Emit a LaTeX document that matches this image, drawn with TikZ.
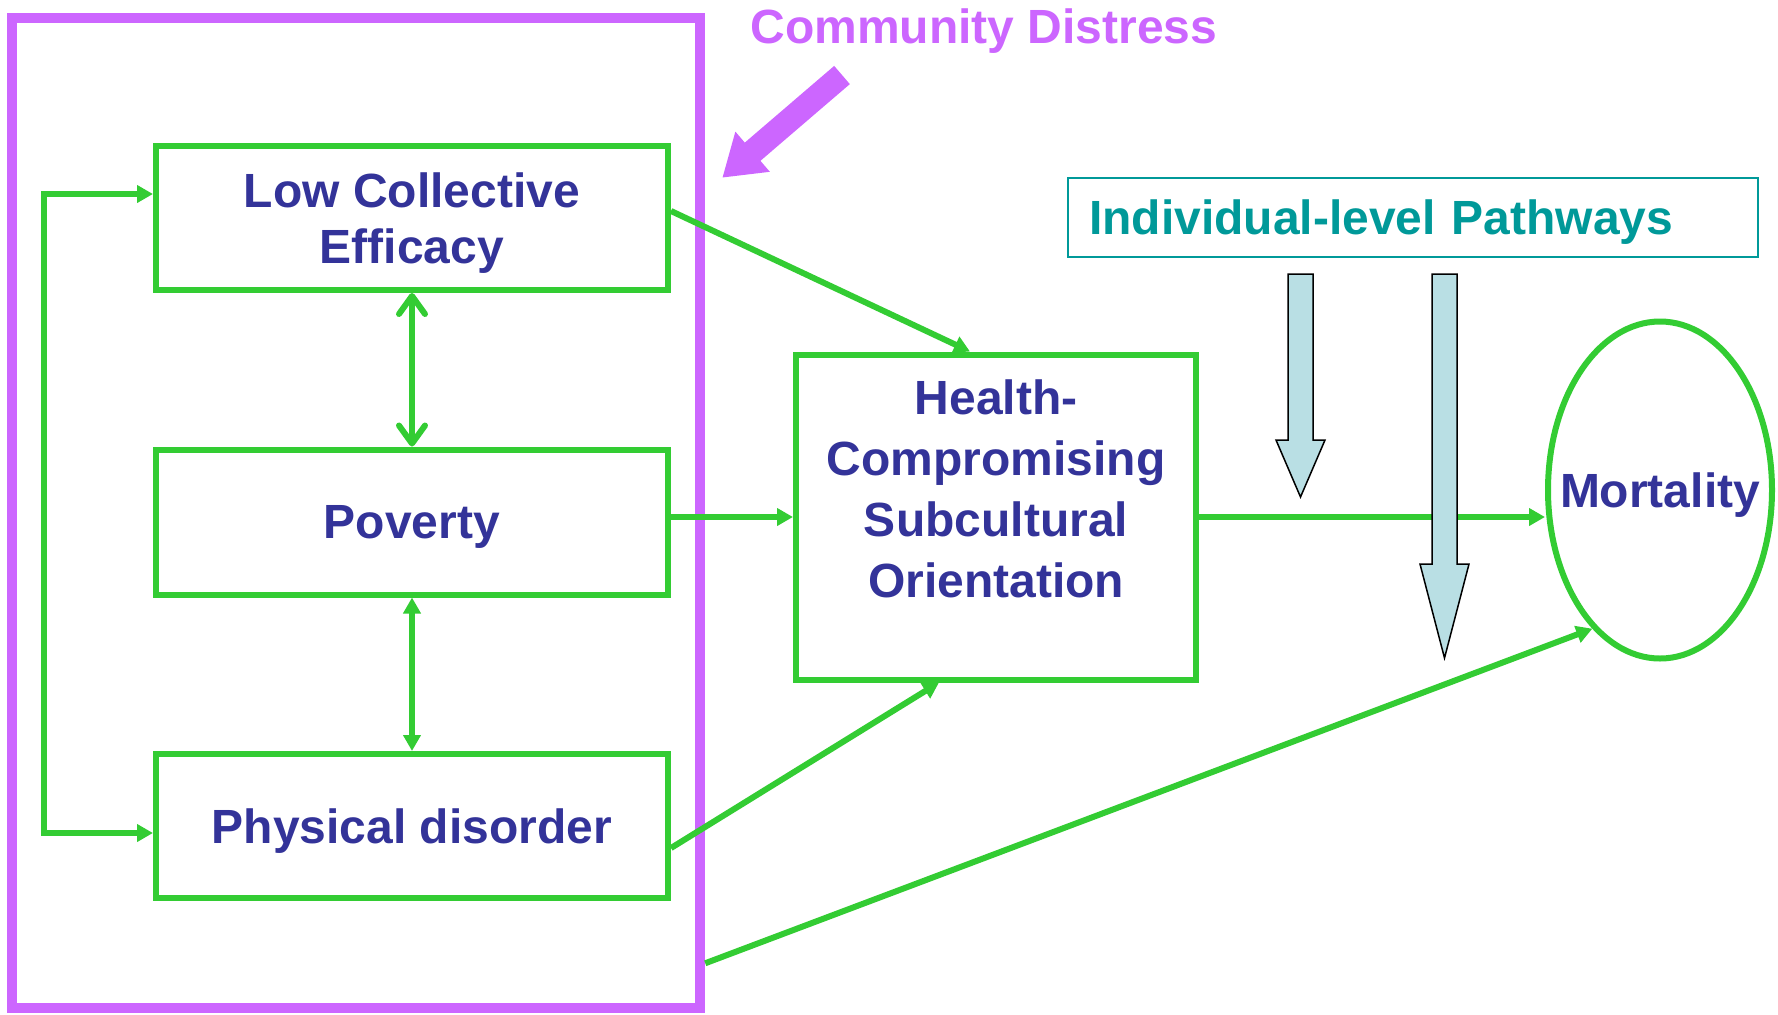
\documentclass[tikz,border=0pt]{standalone}
\usepackage{fontspec}
\setmainfont{Liberation Sans}
\usetikzlibrary{arrows.meta,shapes.geometric}
\definecolor{linkgreen}{HTML}{33CC33}
\definecolor{distresspurple}{HTML}{CC66FF}
\definecolor{labelnavy}{HTML}{333399}
\definecolor{pathteal}{HTML}{009999}
\definecolor{pathblue}{HTML}{B9DFE4}

\begin{document}
\begin{tikzpicture}[x=0.5pt,y=-0.5pt,
  boxtext/.style={text=labelnavy,font=\bfseries\fontsize{24}{27.6}\selectfont,align=center,text depth=0pt,inner sep=0pt},
  box/.style={boxtext,draw=linkgreen,line width=3pt,minimum width=256pt,minimum height=72pt},
  link/.style={draw=linkgreen,line width=3pt},
  >={Triangle[length=8pt,width=8.5pt]},
  openvee/.tip={Straight Barb[length=9pt,width=13pt,round]},
  pathway/.style={fill=pathblue,draw=black,line width=0.75pt,line join=miter}]
\useasboundingbox (0,0) rectangle (1778,1014);
% community level frame and its label
\node[draw=distresspurple,line width=5.25pt,minimum width=344pt,minimum height=495pt,inner sep=0pt] (distress) at (356,513) {};
\node[anchor=base,text=distresspurple,font=\bfseries\fontsize{24}{27.6}\selectfont,inner sep=0pt] (cdtitle) at (984,43) {Community Distress};
\coordinate (cdtail) at (842,75);
\draw[distresspurple,line width=12pt,-{Triangle[length=20pt,width=25pt]}] (cdtail) -- ([shift={(8.5pt,-82.5pt)}]distress.north east);
% neighbourhood boxes
\node[box] (lce) at (412,218) {Low Collective\\Efficacy};
\node[box,minimum height=72.5pt] (pov) at (412,522) {Poverty};
\node[box] (pd) at (412,826) {Physical disorder};
% mediator and outcome
\node[box,minimum width=200pt,minimum height=162.5pt] (hcso) at (996,517) {};
\node[boxtext,font=\bfseries\fontsize{24}{30.5}\selectfont] (hcsotext) at (996,489) {Health-\\Compromising\\Subcultural\\Orientation};
\node[draw=linkgreen,line width=3pt,ellipse,minimum width=112pt,minimum height=168.5pt,inner sep=0pt] (mort) at (1660,490) {};
\node[boxtext] (morttext) at (1660,490) {Mortality};
\node[boxtext,text=pathteal,draw=pathteal,line width=1pt,align=left,text width=324pt,inner xsep=10.5pt,minimum height=39.5pt] (pathways) at (1413,217.5) {Individual-level Pathways};
% links between the boxes
\draw[link,<->] ([yshift=12pt]lce.west) -- ++(-109,0) |- ([yshift=-3.5pt]pd.west);
\draw[link,openvee-openvee] (lce.south) -- (pov.north);
\draw[link,<->] (pd.north) -- (pov.south);
\draw[link,->] ([yshift=3.5pt]lce.east) -- ([xshift=-13pt]hcso.north);
\draw[link,->] (hcso.west -| pov.east) -- (hcso.west);
\draw[link,->] ([yshift=-11pt]pd.east) -- ([xshift=-28.5pt]hcso.south);
\draw[link,->] (hcso.east) -- (hcso.east -| mort.west);
\draw[link,->] ([yshift=25pt]distress.south east) -- (mort.244);
% individual-level block arrows
\draw[pathway] (1288,274) -- (1313,274) -- (1313,440) -- (1325,440) -- (1300.5,497) -- (1276,440) -- (1288,440) -- cycle;
\draw[pathway] (1432,274) -- (1457,274) -- (1457,564) -- (1469,564) -- (1444.5,658) -- (1420,564) -- (1432,564) -- cycle;
\end{tikzpicture}
\end{document}
